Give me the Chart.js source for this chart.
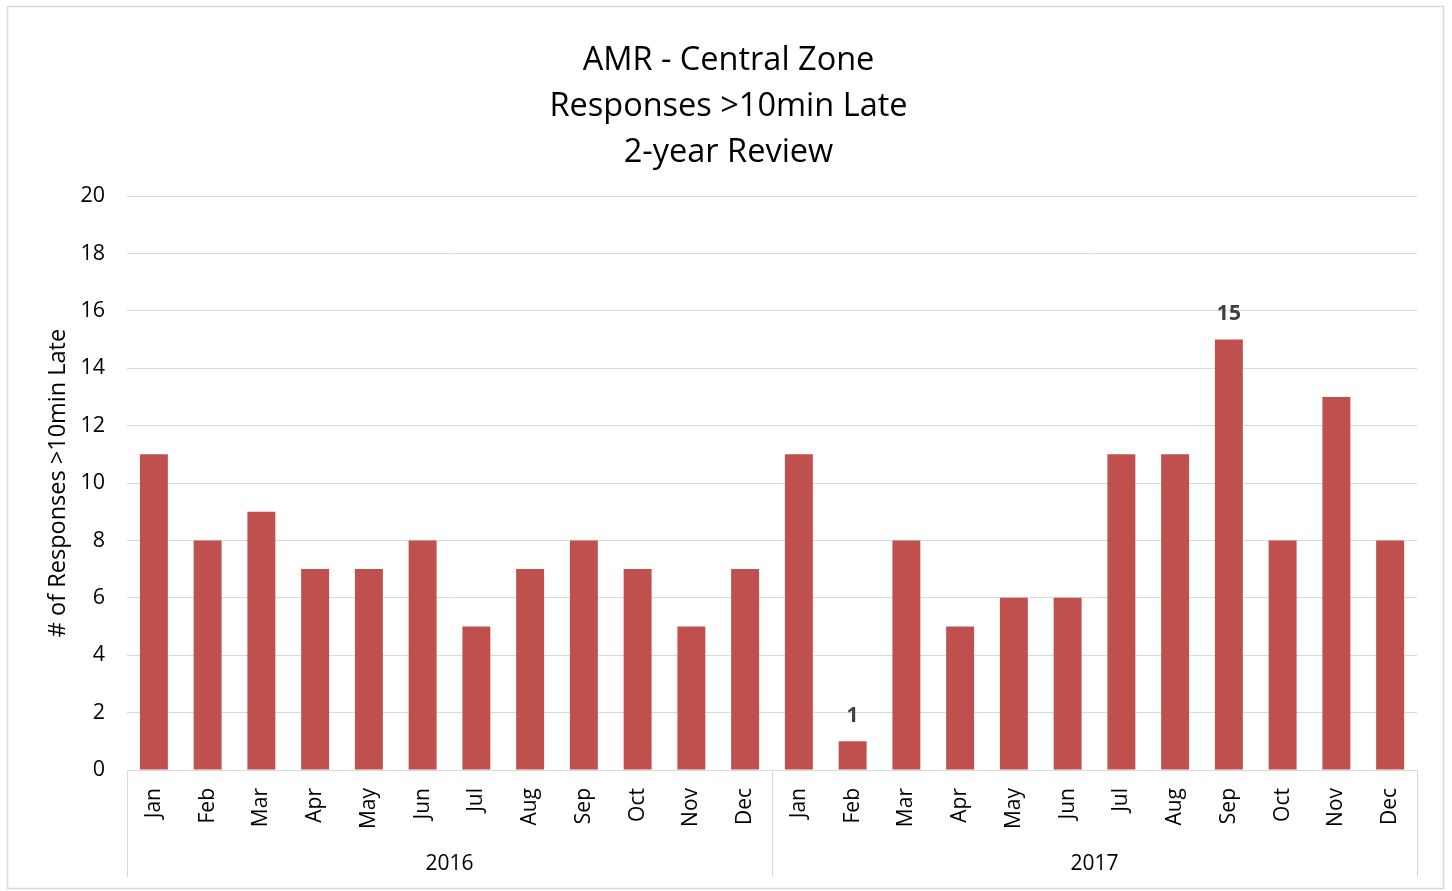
<!DOCTYPE html>
<html>
<head>
<meta charset="utf-8">
<script src="https://cdn.jsdelivr.net/npm/chart.js@4.4.1/dist/chart.umd.min.js"></script>
<style>
  html, body { margin: 0; padding: 0; background: #fff; }
  #wrap { position: relative; width: 1452px; height: 891px; }
  canvas { display: block; }
</style>
</head>
<body>
<div id="wrap"><canvas id="c" width="1452" height="891"></canvas></div>
<script>
const months = ['Jan','Feb','Mar','Apr','May','Jun','Jul','Aug','Sep','Oct','Nov','Dec',
                'Jan','Feb','Mar','Apr','May','Jun','Jul','Aug','Sep','Oct','Nov','Dec'];
const years = ['2016', '2017'];
const responses = [11, 8, 9, 7, 7, 8, 5, 7, 8, 7, 5, 7,
                   11, 1, 8, 5, 6, 6, 11, 11, 15, 8, 13, 8];
const labelledPoints = [13, 20]; // Feb 2017, Sep 2017
const titleLines = ['AMR - Central Zone', 'Responses >10min Late', '2-year Review'];
const yTitle = '# of Responses >10min Late';
const yTicks = { min: 0, max: 20, step: 2 };

const FONT = '"Open Sans", sans-serif';
const GRID = '#d9d9d9';

const framePlugin = {
  id: 'frame',
  beforeDraw(chart) {
    const ctx = chart.ctx;
    ctx.save();
    ctx.fillStyle = '#fff';
    ctx.fillRect(0, 0, chart.width, chart.height);
    ctx.strokeStyle = GRID;
    ctx.lineWidth = 1.5;
    ctx.strokeRect(7.5, 6.5, 1436, 882);
    ctx.restore();
  }
};

const groupPlugin = {
  id: 'groups',
  afterDraw(chart) {
    const ctx = chart.ctx;
    const x = chart.scales.x;
    const bottom = chart.scales.x2.bottom;
    ctx.save();
    ctx.strokeStyle = GRID;
    ctx.lineWidth = 1;
    for (let g = 0; g <= years.length; g++) {
      const px = Math.round(x.getPixelForValue(g * 12 - 0.5)) + 0.5;
      ctx.beginPath();
      ctx.moveTo(px, x.top);
      ctx.lineTo(px, bottom);
      ctx.stroke();
    }
    // data labels
    const meta = chart.getDatasetMeta(0);
    ctx.fillStyle = '#404040';
    ctx.font = 'bold 21px ' + FONT;
    ctx.textAlign = 'center';
    ctx.textBaseline = 'middle';
    labelledPoints.forEach(i => {
      const el = meta.data[i];
      ctx.fillText(String(responses[i]), el.x, el.y - 25);
    });
    ctx.restore();
  }
};

new Chart(document.getElementById('c'), {
  type: 'bar',
  data: {
    labels: months,
    datasets: [{
      data: responses,
      backgroundColor: '#C0504D',
      borderWidth: 0,
      barPercentage: 0.52,
      categoryPercentage: 1
    }]
  },
  options: {
    responsive: false,
    animation: false,
    devicePixelRatio: 1,
    layout: { padding: { left: 40, right: 35, top: 0, bottom: 14 } },
    plugins: {
      legend: { display: false },
      tooltip: { enabled: false },
      title: {
        display: true,
        text: titleLines,
        color: '#000',
        font: { family: FONT, size: 32.5, weight: 'normal', lineHeight: '46px' },
        padding: { top: 38, bottom: 20 }
      }
    },
    scales: {
      x: {
        type: 'category',
        position: 'bottom',
        grid: { display: false },
        border: { display: true, color: GRID, width: 1 },
        ticks: {
          color: '#000',
          font: { family: FONT, size: 21 },
          minRotation: 90,
          maxRotation: 90,
          autoSkip: false,
          padding: 10
        },
        afterFit(s) { s.height = 73; }
      },
      x2: {
        type: 'category',
        position: 'bottom',
        labels: years,
        offset: true,
        grid: { display: false },
        border: { display: false },
        ticks: {
          color: '#000',
          font: { family: FONT, size: 21 },
          maxRotation: 0,
          padding: 0
        },
        afterFit(s) { s.height = 34; }
      },
      y: {
        min: yTicks.min,
        max: yTicks.max,
        grid: { color: GRID, drawTicks: false, lineWidth: 1 },
        border: { display: false },
        ticks: {
          stepSize: yTicks.step,
          color: '#000',
          font: { family: FONT, size: 21.5 },
          padding: 22
        },
        title: {
          display: true,
          text: yTitle,
          color: '#000',
          font: { family: FONT, size: 23.5 },
          padding: { top: 4, bottom: 0 }
        },
        afterFit(s) { s.width = 87; }
      }
    }
  },
  plugins: [framePlugin, groupPlugin]
});
</script>
</body>
</html>
